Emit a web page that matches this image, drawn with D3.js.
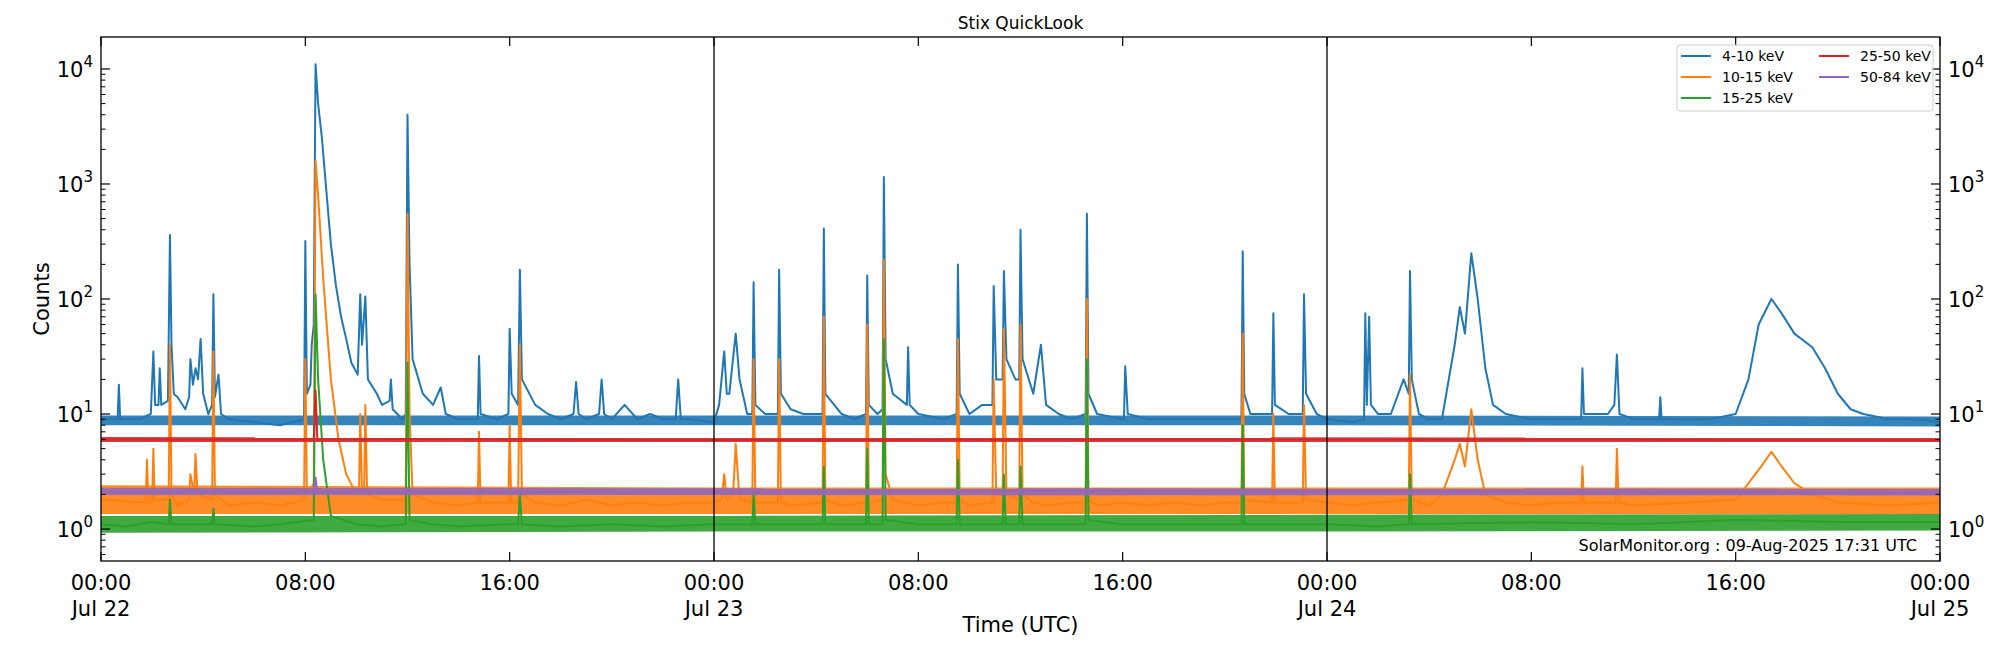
<!DOCTYPE html>
<html><head><meta charset="utf-8">
<script src="https://cdn.jsdelivr.net/npm/d3@7"></script>
<style>body{margin:0;background:#fff}svg{font-family:"DejaVu Sans",sans-serif}</style>
</head><body><svg id="c" width="2000" height="650"></svg>
<script>
const seriesNames=["4-10 keV","10-15 keV","15-25 keV","25-50 keV","50-84 keV"];
const seriesColors=["#1f77b4","#ff7f0e","#2ca02c","#d62728","#9467bd"];
// [hours since 2025-07-22 00:00 UTC, counts]
const s4_10=[[0,9],[0.65,9],[0.7,18],[0.75,9],[1.5,9],[1.95,10],[2.05,35],[2.12,12],[2.25,12],[2.3,25],[2.36,12],[2.62,13],[2.7,360],[2.76,40],[2.85,15],[3,14],[3.3,11],[3.45,14],[3.5,30],[3.6,18],[3.7,25],[3.8,20],[3.9,45],[4.0,15],[4.2,10],[4.35,12],[4.4,110],[4.46,14],[4.6,22],[4.7,10],[5,9],[6,8.5],[7,8],[7.5,8.5],[7.95,9],[8,320],[8.06,15],[8.2,18],[8.25,40],[8.33,60],[8.4,11000],[8.5,5000],[8.65,2500],[8.8,1000],[9,300],[9.2,130],[9.4,70],[9.6,45],[9.8,28],[10.05,22],[10.15,110],[10.22,40],[10.35,105],[10.45,20],[10.8,15],[11,12],[11.3,13],[11.35,20],[11.42,11],[11.8,9],[11.93,10],[12,4000],[12.08,200],[12.2,30],[12.6,15],[13,12],[13.3,17],[13.5,10],[14,9],[14.75,9],[14.8,32],[14.86,10],[15.5,9],[15.95,10],[16,55],[16.08,15],[16.33,12],[16.4,180],[16.48,20],[17,12],[17.5,10],[18,9],[18.5,10],[18.6,19],[18.7,10],[19,9],[19.5,10],[19.6,20],[19.7,10],[20,9],[20.5,12],[21,9],[21.5,10],[22,9],[22.5,9],[22.6,20],[22.7,9],[23,9],[23.9,8.5],[24,8.5],[24.2,12],[24.4,35],[24.5,15],[24.6,15],[24.85,50],[25,20],[25.3,10],[25.5,10],[25.55,140],[25.62,12],[26,10],[26.5,10],[26.55,180],[26.62,15],[27,11],[27.5,10],[28.25,10],[28.3,410],[28.36,15],[29,10],[29.5,9],[29.95,10],[30,160],[30.06,12],[30.4,10],[30.6,11],[30.65,1150],[30.72,30],[31,15],[31.55,12],[31.6,38],[31.66,12],[32,10],[33,9],[33.5,10],[33.55,200],[33.62,15],[34,10],[34.5,12],[34.9,12],[34.95,130],[35.05,20],[35.3,20],[35.35,175],[35.45,30],[35.8,20],[35.95,20],[36,400],[36.08,30],[36.5,15],[36.8,40],[37,12],[37.5,10],[38,9],[38.55,10],[38.6,550],[38.66,15],[39,10],[40,9],[40.05,9],[40.1,26],[40.2,10],[41,9],[42,9],[43,9],[44,9],[44.65,9],[44.7,260],[44.76,15],[45,10],[45.85,10],[45.9,75],[45.96,12],[46.5,10],[47.05,10],[47.1,110],[47.18,15],[47.6,10],[48,9],[49,8.5],[49.45,9],[49.5,75],[49.56,12],[49.65,70],[49.72,12],[50,10],[50.5,10],[51,20],[51.2,15],[51.25,175],[51.32,20],[51.6,10],[52,9],[52.5,9],[53,40],[53.2,85],[53.4,50],[53.65,250],[53.9,100],[54.2,25],[54.5,12],[55,10],[56,9],[57,9],[57.95,9],[58,25],[58.06,10],[59,10],[59.25,12],[59.35,33],[59.45,10],[60,9],[61,9],[61.05,14],[61.1,9],[62,9],[63,9],[64,10],[64.5,20],[64.9,60],[65.4,100],[65.8,75],[66.3,50],[67,38],[67.5,25],[68,15],[68.5,11],[69,10],[70,9],[71,9],[72,8.5]];
const s10_15=[[0,1.8],[1.75,1.7],[1.8,4],[1.86,1.7],[2.0,1.7],[2.05,5],[2.1,1.8],[2.65,1.8],[2.7,40],[2.76,2],[3,1.6],[3.45,1.8],[3.5,3],[3.65,2],[3.7,4.5],[3.78,2],[4.35,1.8],[4.4,35],[4.46,2],[5,1.6],[6,1.7],[7,1.6],[7.95,1.8],[8,30],[8.06,2],[8.33,2.5],[8.4,1600],[8.5,800],[8.7,150],[9,20],[9.3,6],[9.6,3],[10,2],[10.1,2],[10.15,10],[10.22,2],[10.3,2],[10.35,12],[10.42,2],[11,1.8],[11.93,1.8],[12,550],[12.08,10],[12.2,2],[13,1.7],[14,1.6],[14.75,1.7],[14.8,7],[14.86,1.7],[15.95,1.7],[16,8],[16.06,1.7],[16.33,1.7],[16.4,40],[16.48,2],[17,1.7],[18,1.6],[19,1.8],[20,1.6],[21,1.7],[22,1.6],[23,1.7],[24,1.7],[24.3,1.8],[24.4,3],[24.5,1.8],[24.75,2],[24.85,5.5],[25,1.8],[25.5,1.7],[25.55,30],[25.62,1.7],[26.5,1.7],[26.55,30],[26.62,1.7],[27,1.6],[28.25,1.7],[28.3,70],[28.36,1.8],[29,1.6],[29.95,1.7],[30,60],[30.06,1.7],[30.6,1.8],[30.65,220],[30.72,3],[31,1.8],[32,1.6],[33,1.7],[33.5,1.7],[33.55,45],[33.62,1.8],[34,1.6],[34.9,1.7],[34.95,20],[35.05,2],[35.3,2],[35.35,55],[35.45,2],[35.95,1.8],[36,60],[36.08,2],[36.5,1.7],[37,1.6],[38,1.7],[38.55,1.7],[38.6,100],[38.66,1.8],[39,1.6],[40,1.7],[41,1.6],[42,1.7],[43,1.6],[44,1.7],[44.65,1.7],[44.7,50],[44.76,1.8],[45.85,1.7],[45.9,10],[45.96,1.7],[47.05,1.7],[47.1,12],[47.18,1.8],[48,1.7],[49,1.6],[50,1.7],[51.2,1.8],[51.25,22],[51.32,1.8],[52,1.6],[52.5,2],[53,4],[53.2,5.5],[53.4,3.5],[53.65,11],[53.9,4],[54.2,2],[55,1.7],[56,1.6],[57,1.7],[57.95,1.7],[58,3.5],[58.06,1.7],[59.3,1.7],[59.35,5],[59.42,1.7],[60,1.6],[62,1.7],[64,1.8],[64.5,2.5],[65,3.5],[65.4,4.7],[65.8,3.5],[66.3,2.5],[67,2],[68,1.7],[70,1.6],[72,1.7]];
const s15_25=[[0,1.1],[1,1.05],[2,1.15],[2.65,1.1],[2.7,1.8],[2.76,1.1],[4.35,1.1],[4.4,1.5],[4.46,1.1],[6,1.05],[7,1.1],[8.33,1.2],[8.4,110],[8.5,20],[8.7,4],[9,1.3],[10,1.1],[11,1.05],[11.93,1.1],[12,28],[12.08,1.2],[13,1.1],[14,1.05],[16,1.1],[16.33,1.1],[16.4,2],[16.48,1.1],[18,1.05],[20,1.1],[22,1.05],[24,1.1],[25.5,1.1],[25.55,2],[25.62,1.1],[28.25,1.1],[28.3,3.5],[28.36,1.1],[29.95,1.1],[30,5],[30.06,1.1],[30.6,1.1],[30.65,45],[30.72,1.2],[32,1.1],[33.5,1.1],[33.55,4],[33.62,1.1],[35.3,1.1],[35.35,3],[35.42,1.1],[35.95,1.1],[36,3.5],[36.08,1.1],[38.55,1.1],[38.6,30],[38.66,1.2],[40,1.1],[44.65,1.1],[44.7,8],[44.76,1.1],[48,1.1],[50,1.05],[51.2,1.1],[51.25,3],[51.32,1.1],[56,1.15],[60,1.1],[64,1.2],[68,1.15],[72,1.15]];
const s25_50=[[0,6],[8.33,6],[8.4,16],[8.47,6],[12,6.05],[24,5.95],[36,6],[48,6],[60,6],[72,5.9]];
const s50_84=[[0,2.1],[8.33,2.1],[8.4,2.8],[8.47,2.1],[24,2.1],[36,2.15],[48,2.1],[60,2.1],[72,2.05]];
// quiet-time spread of each channel: [hour, low, high]
const band4_10=[[0,8.0,9.7],[24,8.0,9.7],[48,8.0,9.7],[72,7.8,9.5]];
const band10_15=[[0,1.35,2.4],[24,1.35,2.3],[48,1.35,2.3],[72,1.35,2.3]];
const band15_25=[[0,0.93,1.3],[24,0.95,1.3],[48,0.95,1.33],[72,0.97,1.35]];
const band25_50=[[0,5.7,6.3],[72,5.7,6.25]];
const band50_84=[[0,1.98,2.28],[72,1.96,2.24]];
const allSeries=[s4_10,s10_15,s15_25,s25_50,s50_84];
const allBands=[band4_10,band10_15,band15_25,band25_50,band50_84];
const yTicks=[1,10,100,1000,10000];
const xTickHours=[0,8,16,24,32,40,48,56,64,72];
const dayLabels=["Jul 22","Jul 23","Jul 24","Jul 25"];

const svg=d3.select("#c");
const L=101,R=1940,T=37,B=561;
const x=d3.scaleLinear().domain([0,72]).range([L,R]);
const y=d3.scaleLog().domain([Math.pow(10,-0.278),Math.pow(10,4.278)]).range([B,T]);
const g=svg.append("g");
g.append("defs").append("clipPath").attr("id","cp").append("rect").attr("x",L).attr("y",T).attr("width",R-L).attr("height",B-T);
const line=d3.line().x(d=>x(d[0])).y(d=>y(d[1]));
const area=d3.area().x(d=>x(d[0])).y0(d=>y(d[1])).y1(d=>y(d[2]));
const pg=g.append("g").attr("clip-path","url(#cp)");
[0,1,2,3,4].forEach(i=>{
 pg.append("path").attr("d",area(allBands[i])).attr("fill",seriesColors[i]).attr("opacity",0.9);
 pg.append("path").attr("d",line(allSeries[i])).attr("fill","none").attr("stroke",seriesColors[i]).attr("stroke-width",2).attr("stroke-linejoin","round");
});
[24,48].forEach(h=>g.append("line").attr("x1",x(h)).attr("x2",x(h)).attr("y1",T).attr("y2",B).attr("stroke","#000").attr("stroke-width",1.3));
g.append("rect").attr("x",L).attr("y",T).attr("width",R-L).attr("height",B-T).attr("fill","none").attr("stroke","#000").attr("stroke-width",1.3);
const minors=[];
for(let e=-1;e<=4;e++)for(let m=2;m<=9;m++){const v=m*Math.pow(10,e);if(v>y.domain()[0]&&v<y.domain()[1])minors.push(v);}
minors.forEach(v=>{g.append("line").attr("x1",L).attr("x2",L+4.5).attr("y1",y(v)).attr("y2",y(v)).attr("stroke","#000");g.append("line").attr("x1",R).attr("x2",R-4.5).attr("y1",y(v)).attr("y2",y(v)).attr("stroke","#000");});
yTicks.forEach(v=>{
 const yy=y(v),e=Math.round(Math.log10(v));
 g.append("line").attr("x1",L).attr("x2",L+9).attr("y1",yy).attr("y2",yy).attr("stroke","#000").attr("stroke-width",1.2);
 g.append("line").attr("x1",R).attr("x2",R-9).attr("y1",yy).attr("y2",yy).attr("stroke","#000").attr("stroke-width",1.2);
 [[L-8,"end"],[R+8,"start"]].forEach(([xx,a])=>{
  const t=g.append("text").attr("x",xx).attr("y",yy+8).attr("text-anchor",a).attr("font-size",21);
  t.append("tspan").text("10");
  t.append("tspan").attr("font-size",15).attr("dy",-10).text(e);
 });
});
xTickHours.forEach(h=>{
 const xx=x(h);
 g.append("line").attr("x1",xx).attr("x2",xx).attr("y1",B).attr("y2",B-9).attr("stroke","#000").attr("stroke-width",1.2);
 g.append("line").attr("x1",xx).attr("x2",xx).attr("y1",T).attr("y2",T+9).attr("stroke","#000").attr("stroke-width",1.2);
 const hh=String(h%24).padStart(2,"0")+":00";
 g.append("text").attr("x",xx).attr("y",B+29).attr("text-anchor","middle").attr("font-size",21).text(hh);
 if(h%24==0)g.append("text").attr("x",xx).attr("y",B+55).attr("text-anchor","middle").attr("font-size",21).text(dayLabels[h/24]);
});
g.append("text").attr("x",(L+R)/2).attr("y",632).attr("text-anchor","middle").attr("font-size",21).text("Time (UTC)");
g.append("text").attr("transform",`translate(49,${(T+B)/2}) rotate(-90)`).attr("text-anchor","middle").attr("font-size",21).text("Counts");
g.append("text").attr("x",(L+R)/2).attr("y",29).attr("text-anchor","middle").attr("font-size",17).text("Stix QuickLook");
g.append("text").attr("x",1917).attr("y",551).attr("text-anchor","end").attr("font-size",16).text("SolarMonitor.org : 09-Aug-2025 17:31 UTC");
const lg=g.append("g");
lg.append("rect").attr("x",1677).attr("y",45).attr("width",256).attr("height",66).attr("rx",3).attr("fill","#fff").attr("fill-opacity",0.8).attr("stroke","#ccc");
seriesNames.forEach((n,i)=>{
 const col=i<3?0:1,row=i<3?i:i-3;
 const lx=1681+col*138,ly=56+row*21;
 lg.append("line").attr("x1",lx).attr("x2",lx+30).attr("y1",ly).attr("y2",ly).attr("stroke",seriesColors[i]).attr("stroke-width",2);
 lg.append("text").attr("x",lx+41).attr("y",ly+5).attr("font-size",14).text(n);
});
</script></body></html>
